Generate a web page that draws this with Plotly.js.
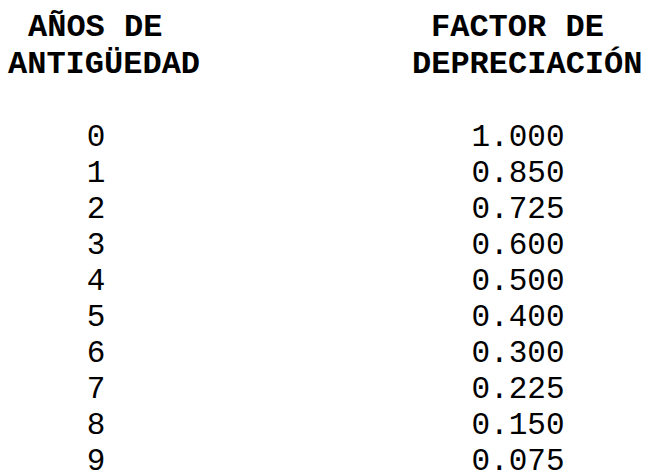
<!DOCTYPE html>
<html>
<head>
<meta charset="utf-8">
<script src="https://cdn.plot.ly/plotly-3.0.1.min.js"></script>
<style>
  html, body { margin: 0; padding: 0; background: #ffffff; }
  #chart { width: 645px; height: 471px; }
</style>
</head>
<body>
<div id="chart"></div>
<script>
// ---- data ----
const columnKeys = ['years', 'factor'];
const headerLines1 = ['AÑOS DE', 'FACTOR DE'];
const headerLines2 = ['ANTIGÜEDAD', 'DEPRECIACIÓN'];
const years = [0, 1, 2, 3, 4, 5, 6, 7, 8, 9];
const factors = [1.000, 0.850, 0.725, 0.600, 0.500, 0.400, 0.300, 0.225, 0.150, 0.075];

// ---- styling ----
const bodyFont = { family: 'Liberation Mono, Courier New, monospace', size: 31, color: '#000000' };
const headFont = { family: 'Liberation Mono, Courier New, monospace', size: 32, color: '#000000', weight: 'bold' };

const traces = [
  {
    type: 'scatter', mode: 'text',
    x: years.map(() => columnKeys[0]),
    y: years,
    text: years.map(v => String(v)),
    textposition: 'middle center',
    textfont: bodyFont,
    hoverinfo: 'skip', showlegend: false
  },
  {
    type: 'scatter', mode: 'text',
    x: factors.map(() => columnKeys[1]),
    y: years,
    text: factors.map(v => v.toFixed(3)),
    textposition: 'middle center',
    textfont: bodyFont,
    hoverinfo: 'skip', showlegend: false
  }
];

const W = 645, H = 471;
const headerX1 = [95 / W, 517 / W];
const headerX2 = [103.5 / W, 526.5 / W];
const annotations = [];
headerLines1.forEach((t, i) => annotations.push({
  text: t, xref: 'paper', yref: 'paper', x: headerX1[i], y: 1 - 28 / H,
  xanchor: 'center', yanchor: 'middle', showarrow: false, font: headFont
}));
headerLines2.forEach((t, i) => annotations.push({
  text: t, xref: 'paper', yref: 'paper', x: headerX2[i], y: 1 - 65 / H,
  xanchor: 'center', yanchor: 'middle', showarrow: false, font: headFont
}));

const layout = {
  width: W, height: H,
  margin: { l: 0, r: 0, t: 0, b: 0, pad: 0 },
  paper_bgcolor: '#ffffff', plot_bgcolor: '#ffffff',
  xaxis: { type: 'category', categoryarray: columnKeys, range: [-0.2275, 1.3009], visible: false, fixedrange: true },
  yaxis: { range: [9.25, -3.833], visible: false, fixedrange: true },
  annotations: annotations,
  hovermode: false,
  showlegend: false
};

Plotly.newPlot('chart', traces, layout, { displayModeBar: false, staticPlot: true });
</script>
</body>
</html>
